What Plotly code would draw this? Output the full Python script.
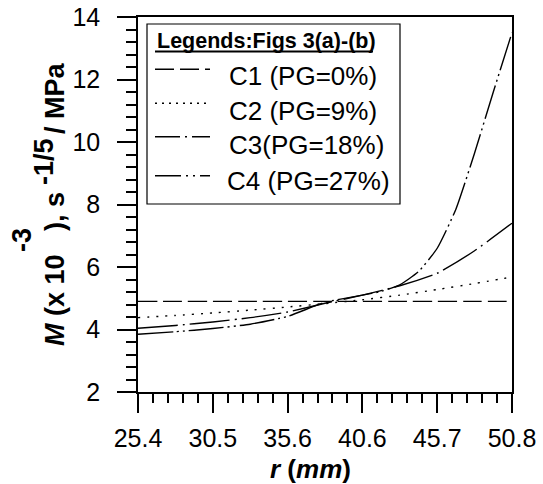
import plotly.graph_objects as go

# Radius (mm) and M values (x10^-3 s^-1/5 / MPa) for the four blends
r_grid = [25.4, 27.94, 30.48, 33.02, 35.56, 38.1, 40.64, 43.18, 45.72, 48.26, 50.8]
m_c1 = [4.9, 4.9, 4.9, 4.9, 4.9, 4.9, 4.9, 4.9, 4.9, 4.9, 4.9]
m_c2 = [4.38, 4.45, 4.53, 4.62, 4.72, 4.83, 4.95, 5.1, 5.28, 5.47, 5.68]
m_c3 = [4.04, 4.13, 4.24, 4.38, 4.56, 4.84, 5.1, 5.4, 5.8, 6.52, 7.4]
r_c4 = [25.4, 27.94, 30.48, 33.02, 35.56, 38.1, 40.64, 41.91, 43.18,
        44.45, 45.72, 46.99, 48.26, 49.53, 50.8]
m_c4 = [3.85, 3.93, 4.03, 4.17, 4.42, 4.87, 5.1, 5.22, 5.43,
        5.85, 6.6, 7.85, 9.65, 11.6, 13.5]

series_names = ["C1 (PG=0%)", "C2 (PG=9%)", "C3(PG=18%)", "C4 (PG=27%)"]
x_tickvals = [25.4, 30.48, 35.56, 40.64, 45.72, 50.8]
x_ticktext = ["25.4", "30.5", "35.6", "40.6", "45.7", "50.8"]
x_minor_vals = [25.4 + 1.016 * i for i in range(26)]

FONT = "Liberation Sans, Arial, sans-serif"
W, H = 543, 484
L, R, T, B = 138, 512, 17, 392

trace_dash = ["19px,6px", "2px,7px", "40px,5px,2px,5px", "35px,4px,2px,4px,2px,4px"]
legend_dash = ["19px,6px", "2px,5px", "25px,5px,2px,5px", "26px,5px,2px,5px,2px,5px"]

fig = go.Figure()
series = [(r_grid, m_c1), (r_grid, m_c2), (r_grid, m_c3), (r_c4, m_c4)]
for (xs, ys), name, dash in zip(series, series_names, trace_dash):
    fig.add_trace(go.Scatter(
        x=xs, y=ys, mode="lines", name=name, showlegend=False,
        line=dict(color="black", width=1.4, dash=dash, shape="spline", smoothing=0.5),
    ))


def px(xp):
    return (xp - L) / (R - L)


def py(yp):
    return (B - yp) / (B - T)


shapes = []
annotations = []

# Legend frame
shapes.append(dict(type="rect", xref="paper", yref="paper",
                   x0=px(147), x1=px(400), y0=py(204), y1=py(24),
                   line=dict(color="black", width=1.2), fillcolor="white", layer="above"))
annotations.append(dict(xref="paper", yref="paper", x=px(155), y=py(41),
                        xanchor="left", yanchor="middle", showarrow=False,
                        text="<b>Legends:Figs 3(a)-(b)</b>",
                        font=dict(family=FONT, size=21.5, color="black")))
shapes.append(dict(type="line", xref="paper", yref="paper",
                   x0=px(155), x1=px(373), y0=py(51.5), y1=py(51.5),
                   line=dict(color="black", width=2), layer="above"))
row_line_y = [69.3, 103.3, 136.7, 175.7]
row_text_y = [76, 111, 145, 181]
row_text_x = [227, 227, 227, 225]
for name, dash, ly, ty, tx in zip(series_names, legend_dash, row_line_y, row_text_y, row_text_x):
    shapes.append(dict(type="line", xref="paper", yref="paper",
                       x0=px(155), x1=px(210), y0=py(ly), y1=py(ly),
                       line=dict(color="black", width=1.4, dash=dash), layer="above"))
    annotations.append(dict(xref="paper", yref="paper", x=px(tx), y=py(ty),
                            xanchor="left", yanchor="middle", showarrow=False,
                            text=name, font=dict(family=FONT, size=26, color="black")))

# x-axis title
annotations.append(dict(xref="paper", yref="paper", x=px(310.5), y=py(469),
                        xanchor="center", yanchor="middle", showarrow=False,
                        text="<b><i>r</i> (<i>mm</i>)</b>",
                        font=dict(family=FONT, size=26, color="black")))

# y-axis title, assembled from rotated pieces (superscripts raised to the left)
ytitle_parts = [
    ("<b><i>M</i> (x 10</b>", 55, 300),
    ("<b>), s</b>", 55, 212),
    ("<b>/ MPa</b>", 55, 98),
    ("<b>-3</b>", 22, 240),
    ("<b>-1/5</b>", 44, 162),
]
for text, xp, yp in ytitle_parts:
    annotations.append(dict(xref="paper", yref="paper", x=px(xp), y=py(yp),
                            xanchor="center", yanchor="middle", showarrow=False,
                            textangle=-90, text=text,
                            font=dict(family=FONT, size=27, color="black")))

axis_common = dict(
    showline=True, linecolor="black", linewidth=1.5, mirror=True,
    ticks="outside", ticklen=19, tickwidth=1.5, tickcolor="black",
    showgrid=False, zeroline=False, automargin=False,
    tickfont=dict(family=FONT, size=25, color="black"),
)

fig.update_layout(
    width=W, height=H,
    margin=dict(l=L, r=W - R, t=T, b=H - B, autoexpand=False),
    paper_bgcolor="white", plot_bgcolor="white",
    showlegend=False,
    xaxis=dict(range=[25.4, 50.8], tickmode="array", tickvals=x_tickvals,
               ticktext=x_ticktext, ticklabelstandoff=4,
               minor=dict(tickmode="array", tickvals=x_minor_vals, ticks="outside",
                          ticklen=9, tickwidth=1.5, tickcolor="black", showgrid=False),
               **axis_common),
    yaxis=dict(range=[2, 14], tickmode="linear", tick0=2, dtick=2, ticklabelstandoff=12,
               minor=dict(tickmode="linear", tick0=2, dtick=0.4, ticks="outside",
                          ticklen=10, tickwidth=1.5, tickcolor="black", showgrid=False),
               **axis_common),
    shapes=shapes,
    annotations=annotations,
)

fig.write_html("out.html")
